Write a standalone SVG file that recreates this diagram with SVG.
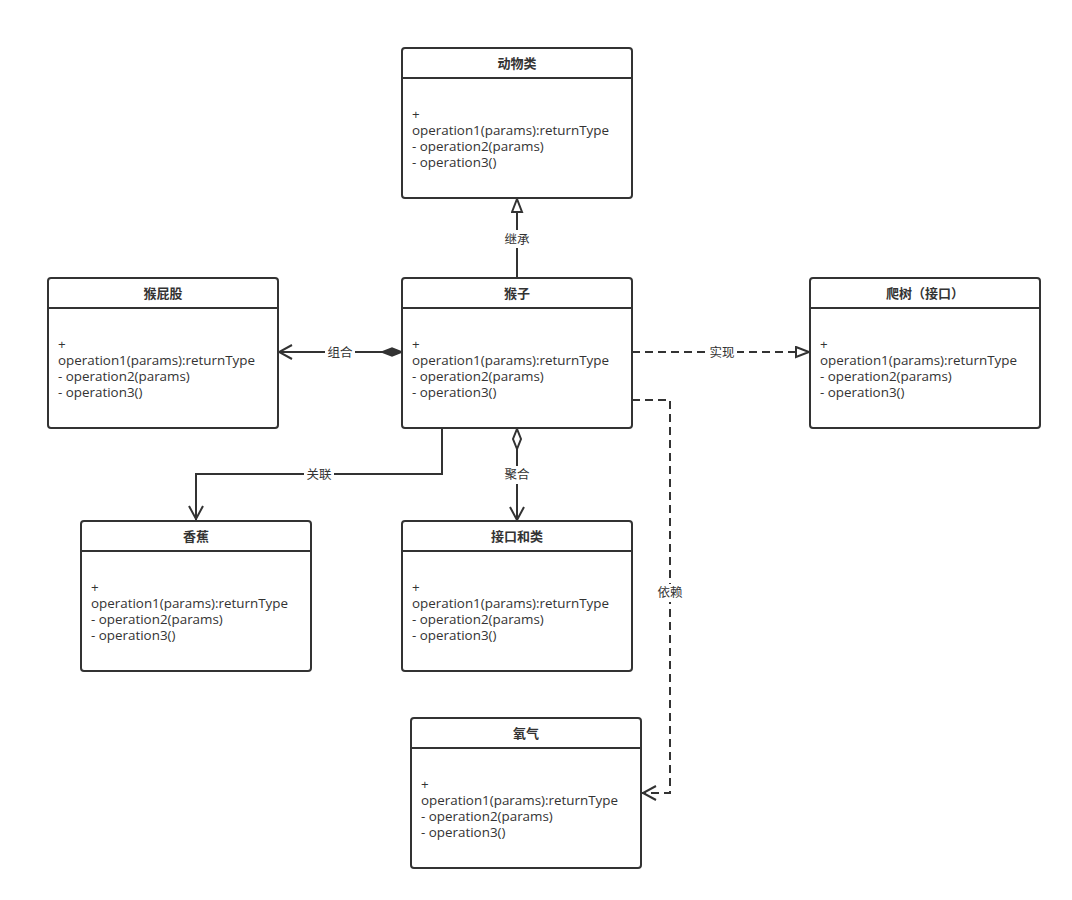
<svg xmlns="http://www.w3.org/2000/svg" width="1072" height="900" viewBox="0 0 1072 900">
<style>
.box{fill:#fff;stroke:#333;stroke-width:2}
.hl{stroke:#333;stroke-width:2}
.t{font-family:"Liberation Sans","Noto Sans CJK SC",sans-serif;font-size:13px;font-weight:bold;fill:#333;text-anchor:middle}
.m{font-family:"Open Sans","Liberation Sans","Noto Sans CJK SC",sans-serif;font-size:13.4px;fill:#333}
.c{fill:none;stroke:#333;stroke-width:2}
.d{stroke-dasharray:8,5}
.lbl{font-family:"Noto Sans CJK SC",sans-serif;font-size:12.5px;fill:#333;text-anchor:middle}
.lb{fill:#fff}
</style>
<defs>
<marker id="open" markerWidth="20" markerHeight="20" refX="1" refY="8" orient="auto" markerUnits="userSpaceOnUse"><path d="M14,1 L1,8 L14,15" fill="none" stroke="#333" stroke-width="2"/></marker>
<marker id="openE" markerWidth="20" markerHeight="20" refX="15" refY="8" orient="auto" markerUnits="userSpaceOnUse"><path d="M1,1 L14,8 L1,15" fill="none" stroke="#333" stroke-width="2"/></marker>
<marker id="tri" markerWidth="20" markerHeight="20" refX="14" refY="6" orient="auto" markerUnits="userSpaceOnUse"><path d="M1,1 L14,6 L1,11 Z" fill="#fff" stroke="#333" stroke-width="2"/></marker>
<marker id="fdia" markerWidth="24" markerHeight="14" refX="21" refY="6" orient="auto" markerUnits="userSpaceOnUse"><path d="M1,6 L11,2 L21,6 L11,10 Z" fill="#333" stroke="#333" stroke-width="1.5"/></marker>
<marker id="hdia" markerWidth="24" markerHeight="14" refX="21" refY="6" orient="auto" markerUnits="userSpaceOnUse"><path d="M1,6 L11,2 L21,6 L11,10 Z" fill="#fff" stroke="#333" stroke-width="2"/></marker>
</defs>
<rect width="1072" height="900" fill="#fff"/>
<g id="connectors">
<g id="inherit"><path class="c" d="M517,278 V199" marker-end="url(#tri)"/><rect class="lb" x="502" y="230" width="30" height="18"/><text class="lbl" x="517" y="244">继承</text></g>
<g id="compose"><path class="c" d="M279,352 H402" marker-start="url(#open)" marker-end="url(#fdia)"/><rect class="lb" x="325" y="344" width="30" height="18"/><text class="lbl" x="340" y="357">组合</text></g>
<g id="realize"><path class="c d" d="M632,352 H809" marker-end="url(#tri)"/><rect class="lb" x="707" y="344" width="30" height="18"/><text class="lbl" x="722" y="357">实现</text></g>
<g id="depend"><path class="c d" d="M632,400 H670 V793 H642" marker-end="url(#openE)"/><rect class="lb" x="655" y="584" width="30" height="18"/><text class="lbl" x="670" y="597">依赖</text></g>
<g id="assoc"><path class="c" d="M442,428 V474 H196 V520" marker-end="url(#openE)"/><rect class="lb" x="304" y="466" width="30" height="18"/><text class="lbl" x="319" y="479">关联</text></g>
<g id="aggr"><path class="c" d="M517,520 V429" marker-start="url(#open)" marker-end="url(#hdia)"/><rect class="lb" x="502" y="466" width="30" height="18"/><text class="lbl" x="517" y="479">聚合</text></g>
</g>
<g id="animal">
<rect class="box" x="402" y="48" width="230" height="150" rx="3"/><line class="hl" x1="402" y1="78" x2="632" y2="78"/>
<text class="t" x="517" y="68">动物类</text>
<text class="m"><tspan x="412" y="119">+</tspan><tspan x="412" y="135">operation1(params):returnType</tspan><tspan x="412" y="151">- operation2(params)</tspan><tspan x="412" y="167">- operation3()</tspan></text>
</g>
<g id="butt">
<rect class="box" x="48" y="278" width="230" height="150" rx="3"/><line class="hl" x1="48" y1="308" x2="278" y2="308"/>
<text class="t" x="163" y="298">猴屁股</text>
<text class="m"><tspan x="58" y="349">+</tspan><tspan x="58" y="365">operation1(params):returnType</tspan><tspan x="58" y="381">- operation2(params)</tspan><tspan x="58" y="397">- operation3()</tspan></text>
</g>
<g id="monkey">
<rect class="box" x="402" y="278" width="230" height="150" rx="3"/><line class="hl" x1="402" y1="308" x2="632" y2="308"/>
<text class="t" x="517" y="298">猴子</text>
<text class="m"><tspan x="412" y="349">+</tspan><tspan x="412" y="365">operation1(params):returnType</tspan><tspan x="412" y="381">- operation2(params)</tspan><tspan x="412" y="397">- operation3()</tspan></text>
</g>
<g id="climb">
<rect class="box" x="810" y="278" width="230" height="150" rx="3"/><line class="hl" x1="810" y1="308" x2="1040" y2="308"/>
<text class="t" x="925" y="298">爬树（接口）</text>
<text class="m"><tspan x="820" y="349">+</tspan><tspan x="820" y="365">operation1(params):returnType</tspan><tspan x="820" y="381">- operation2(params)</tspan><tspan x="820" y="397">- operation3()</tspan></text>
</g>
<g id="banana">
<rect class="box" x="81" y="521" width="230" height="150" rx="3"/><line class="hl" x1="81" y1="551" x2="311" y2="551"/>
<text class="t" x="196" y="541">香蕉</text>
<text class="m"><tspan x="91" y="592">+</tspan><tspan x="91" y="608">operation1(params):returnType</tspan><tspan x="91" y="624">- operation2(params)</tspan><tspan x="91" y="640">- operation3()</tspan></text>
</g>
<g id="ifclass">
<rect class="box" x="402" y="521" width="230" height="150" rx="3"/><line class="hl" x1="402" y1="551" x2="632" y2="551"/>
<text class="t" x="517" y="541">接口和类</text>
<text class="m"><tspan x="412" y="592">+</tspan><tspan x="412" y="608">operation1(params):returnType</tspan><tspan x="412" y="624">- operation2(params)</tspan><tspan x="412" y="640">- operation3()</tspan></text>
</g>
<g id="oxygen">
<rect class="box" x="411" y="718" width="230" height="150" rx="3"/><line class="hl" x1="411" y1="748" x2="641" y2="748"/>
<text class="t" x="526" y="738">氧气</text>
<text class="m"><tspan x="421" y="789">+</tspan><tspan x="421" y="805">operation1(params):returnType</tspan><tspan x="421" y="821">- operation2(params)</tspan><tspan x="421" y="837">- operation3()</tspan></text>
</g>
</svg>
